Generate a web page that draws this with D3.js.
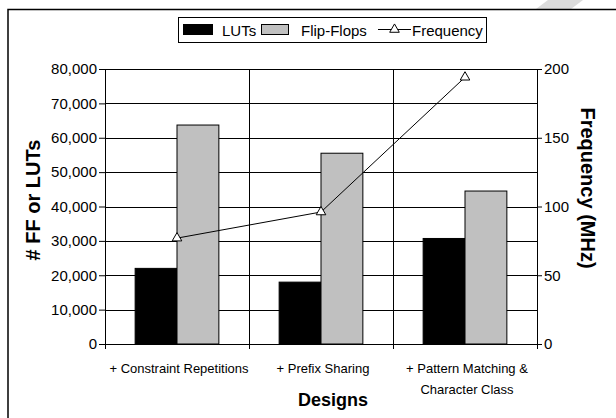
<!DOCTYPE html>
<html>
<head>
<meta charset="utf-8">
<script src="https://cdn.jsdelivr.net/npm/d3@7"></script>
<style>
  body { margin: 0; background: #fff; }
  svg { display: block; font-family: "Liberation Sans", Arial, sans-serif; }
</style>
</head>
<body>
<div id="chart"></div>
<script>

// Chart values
var categories = ['+ Constraint Repetitions', '+ Prefix Sharing', '+ Pattern Matching & Character Class'];
var categoryLines = [['+ Constraint Repetitions'], ['+ Prefix Sharing'], ['+ Pattern Matching &', 'Character Class']];
var luts = [22000, 18000, 30700];
var flipFlops = [63700, 55500, 44500];
var frequency = [77, 96, 194];
var leftTicks = [0, 10000, 20000, 30000, 40000, 50000, 60000, 70000, 80000];
var rightTicks = [0, 50, 100, 150, 200];


var width = 616, height = 418;
var plot = {left: 105, right: 537, top: 69, bottom: 344};

var svg = d3.select('#chart').append('svg')
	.attr('width', width)
	.attr('height', height);

// faint diagonal stripe peeking above the frame
svg.append('polygon')
	.attr('points', '548,0 583,0 571,9 536,9')
	.attr('fill', '#dcdcdc');

// outer frame (runs off the right and bottom edges)
svg.append('rect')
	.attr('x', 8).attr('y', 9.5)
	.attr('width', 620).attr('height', 420)
	.attr('fill', '#fff')
	.attr('stroke', '#000')
	.attr('stroke-width', 1.5);


// Scales
var x = d3.scaleBand()
	.domain(categories)
	.range([plot.left, plot.right])
	.padding(0);

var xSeries = d3.scaleBand()
	.domain(['luts', 'ff'])
	.range([0, x.bandwidth()])
	.paddingInner(0)
	.paddingOuter(0.72);

var yLeft = d3.scaleLinear()
	.domain([0, 80000])
	.range([plot.bottom, plot.top]);

var yRight = d3.scaleLinear()
	.domain([0, 200])
	.range([plot.bottom, plot.top]);


// Grid lines
var grid = svg.append('g').attr('stroke', '#000').attr('stroke-width', 1);

grid.selectAll('line.h')
	.data(leftTicks.slice(1))
	.enter().append('line')
	.attr('x1', plot.left).attr('x2', plot.right)
	.attr('y1', (d) => Math.round(yLeft(d)) + 0.5)
	.attr('y2', (d) => Math.round(yLeft(d)) + 0.5);

grid.selectAll('line.v')
	.data(categories.slice(1))
	.enter().append('line')
	.attr('x1', (d) => Math.round(x(d)) + 0.5)
	.attr('x2', (d) => Math.round(x(d)) + 0.5)
	.attr('y1', plot.top).attr('y2', plot.bottom + 5);


// Bars
var groups = svg.selectAll('g.cat')
	.data(categories)
	.enter().append('g')
	.attr('transform', (d) => 'translate(' + x(d) + ',0)');

groups.append('rect')
	.attr('x', xSeries('luts'))
	.attr('width', xSeries.bandwidth())
	.attr('y', (d, i) => yLeft(luts[i]))
	.attr('height', (d, i) => yLeft(0) - yLeft(luts[i]))
	.attr('fill', '#000')
	.attr('stroke', '#000');

groups.append('rect')
	.attr('x', xSeries('ff'))
	.attr('width', xSeries.bandwidth())
	.attr('y', (d, i) => yLeft(flipFlops[i]))
	.attr('height', (d, i) => yLeft(0) - yLeft(flipFlops[i]))
	.attr('fill', '#c0c0c0')
	.attr('stroke', '#000');


// Axes
var leftAxis = d3.axisLeft(yLeft)
	.tickValues(leftTicks)
	.tickFormat(d3.format(','))
	.tickSizeInner(6).tickSizeOuter(0).tickPadding(2);

var rightAxis = d3.axisRight(yRight)
	.tickValues(rightTicks)
	.tickSizeInner(5).tickSizeOuter(0).tickPadding(2);

var bottomAxis = d3.axisBottom(x)
	.tickValues([])
	.tickSizeOuter(0);

svg.append('g')
	.attr('transform', 'translate(' + plot.left + ',0)')
	.call(leftAxis);

svg.append('g')
	.attr('transform', 'translate(' + plot.right + ',0)')
	.call(rightAxis);

svg.append('g')
	.attr('transform', 'translate(0,' + plot.bottom + ')')
	.call(bottomAxis);

// category boundary ticks under the axis
svg.append('g').selectAll('line')
	.data([plot.left, plot.right])
	.enter().append('line')
	.attr('x1', (d) => d + 0.5).attr('x2', (d) => d + 0.5)
	.attr('y1', plot.bottom).attr('y2', plot.bottom + 5)
	.attr('stroke', '#000');

svg.selectAll('.domain, .tick line').attr('stroke', '#000');
svg.selectAll('.tick text')
	.attr('font-size', 15)
	.attr('fill', '#000')
	.attr('font-family', '"Liberation Sans", Arial, sans-serif');


// Frequency line
var line = d3.line()
	.x((d, i) => x(categories[i]) + x.bandwidth() / 2)
	.y((d) => yRight(d));

svg.append('path')
	.datum(frequency)
	.attr('d', line)
	.attr('fill', 'none')
	.attr('stroke', '#000')
	.attr('stroke-width', 1);

var tri = d3.symbol(d3.symbolTriangle, 40);

svg.selectAll('path.marker')
	.data(frequency)
	.enter().append('path')
	.attr('transform', (d, i) => 'translate(' + (x(categories[i]) + x.bandwidth() / 2) + ',' + yRight(d) + ')')
	.attr('d', tri)
	.attr('fill', '#fff')
	.attr('stroke', '#000');


// Category labels
var catLabels = svg.selectAll('text.cat')
	.data(categoryLines)
	.enter().append('text')
	.attr('text-anchor', 'middle')
	.attr('font-size', 13)
	.attr('fill', '#000');

catLabels.selectAll('tspan')
	.data((d, i) => d.map((t) => ({t: t, i: i})))
	.enter().append('tspan')
	.attr('x', (d) => x(categories[d.i]) + x.bandwidth() / 2 + 2)
	.attr('y', (d, j) => 373 + j * 21)
	.text((d) => d.t);


// Axis titles
svg.append('text')
	.attr('x', 333).attr('y', 406)
	.attr('text-anchor', 'middle')
	.attr('font-size', 18).attr('font-weight', 'bold')
	.text('Designs');

svg.append('text')
	.attr('transform', 'translate(40,200) rotate(-90)')
	.attr('text-anchor', 'middle')
	.attr('font-size', 20).attr('font-weight', 'bold')
	.text('# FF or LUTs');

svg.append('text')
	.attr('transform', 'translate(581,188) rotate(90)')
	.attr('text-anchor', 'middle')
	.attr('font-size', 20).attr('font-weight', 'bold')
	.text('Frequency (MHz)');


// Legend
var legend = svg.append('g');

legend.append('rect')
	.attr('x', 178.5).attr('y', 17.5)
	.attr('width', 308).attr('height', 25)
	.attr('fill', '#fff').attr('stroke', '#000');

legend.append('rect')
	.attr('x', 183.5).attr('y', 24.5)
	.attr('width', 29).attr('height', 10)
	.attr('fill', '#000').attr('stroke', '#000');

legend.append('text')
	.attr('x', 222).attr('y', 36)
	.attr('font-size', 15)
	.text('LUTs');

legend.append('rect')
	.attr('x', 261.5).attr('y', 24.5)
	.attr('width', 27).attr('height', 10)
	.attr('fill', '#c0c0c0').attr('stroke', '#000');

legend.append('text')
	.attr('x', 301).attr('y', 36)
	.attr('font-size', 15)
	.text('Flip-Flops');

legend.append('line')
	.attr('x1', 378).attr('x2', 411)
	.attr('y1', 29.5).attr('y2', 29.5)
	.attr('stroke', '#000');

legend.append('path')
	.attr('transform', 'translate(394.5,29.5)')
	.attr('d', tri)
	.attr('fill', '#fff')
	.attr('stroke', '#000');

legend.append('text')
	.attr('x', 412).attr('y', 36)
	.attr('font-size', 15)
	.text('Frequency');

</script>
</body>
</html>
